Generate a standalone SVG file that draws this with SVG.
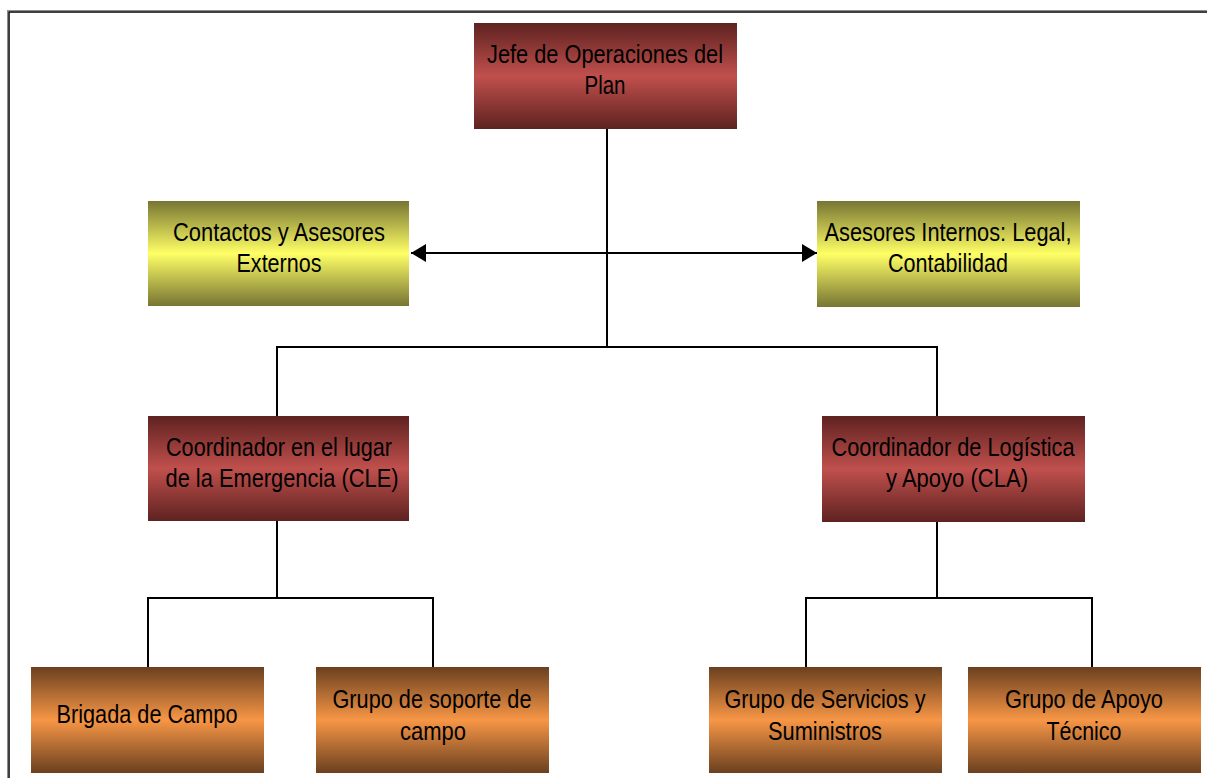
<svg xmlns="http://www.w3.org/2000/svg" width="1207" height="778" viewBox="0 0 1207 778">
<defs>
<linearGradient id="gRed" x1="0" y1="0" x2="0" y2="1">
<stop offset="0" stop-color="#5e2220"/><stop offset="0.5" stop-color="#c0504d"/><stop offset="1" stop-color="#5e2220"/>
</linearGradient>
<linearGradient id="gYel" x1="0" y1="0" x2="0" y2="1">
<stop offset="0" stop-color="#777533"/><stop offset="0.5" stop-color="#ffff66"/><stop offset="1" stop-color="#777533"/>
</linearGradient>
<linearGradient id="gOra" x1="0" y1="0" x2="0" y2="1">
<stop offset="0" stop-color="#6a401f"/><stop offset="0.5" stop-color="#f79646"/><stop offset="1" stop-color="#6a401f"/>
</linearGradient>
<marker id="arr" viewBox="0 0 15 18" refX="15" refY="9" markerWidth="15" markerHeight="18" markerUnits="userSpaceOnUse" orient="auto-start-reverse">
<path d="M0,0 L15,9 L0,18 Z" fill="#000"/>
</marker>
<style>
text{font-family:"Liberation Sans",Arial,sans-serif;font-size:25px;fill:#000;text-anchor:middle}
.red{fill:url(#gRed)}
.yel{fill:url(#gYel)}
.ora{fill:url(#gOra)}
.ln{stroke:#000;stroke-width:2;fill:none}
</style>
</defs>
<rect width="1207" height="778" fill="#fff"/>
<rect x="7.5" y="10.5" width="1300" height="900" fill="none" stroke="#8c8c8c" stroke-width="1"/>
<rect x="9" y="12" width="1300" height="900" fill="none" stroke="#000" stroke-width="1.5"/>

<g id="connectors">
<path class="ln" d="M607,129 V347"/>
<path class="ln" d="M277,416 V347 H937 V416"/>
<path class="ln" d="M277,521 V598"/>
<path class="ln" d="M148,667 V598 H433 V667"/>
<path class="ln" d="M937,522 V598"/>
<path class="ln" d="M806,667 V598 H1092 V667"/>
<path class="ln" d="M411,253 H817" marker-start="url(#arr)" marker-end="url(#arr)"/>
</g>

<g id="jefe">
<rect class="red" x="474" y="23" width="263" height="106"/>
<text x="605" y="63" textLength="236" lengthAdjust="spacingAndGlyphs">Jefe de Operaciones del</text>
<text x="605" y="94" textLength="41" lengthAdjust="spacingAndGlyphs">Plan</text>
</g>
<g id="contactos">
<rect class="yel" x="148" y="201" width="261" height="105"/>
<text x="279" y="241" textLength="212" lengthAdjust="spacingAndGlyphs">Contactos y Asesores</text>
<text x="279" y="272" textLength="85" lengthAdjust="spacingAndGlyphs">Externos</text>
</g>
<g id="asesores">
<rect class="yel" x="817" y="201" width="263" height="106"/>
<text x="948" y="241" textLength="247" lengthAdjust="spacingAndGlyphs">Asesores Internos: Legal,</text>
<text x="948" y="272" textLength="120" lengthAdjust="spacingAndGlyphs">Contabilidad</text>
</g>
<g id="cle">
<rect class="red" x="148" y="416" width="261" height="105"/>
<text x="279" y="456" textLength="226" lengthAdjust="spacingAndGlyphs">Coordinador en el lugar</text>
<text x="282" y="487" textLength="233" lengthAdjust="spacingAndGlyphs">de la Emergencia (CLE)</text>
</g>
<g id="cla">
<rect class="red" x="822" y="416" width="263" height="106"/>
<text x="953" y="456" textLength="243" lengthAdjust="spacingAndGlyphs">Coordinador de Logística</text>
<text x="957" y="487" textLength="142" lengthAdjust="spacingAndGlyphs">y Apoyo (CLA)</text>
</g>
<g id="brigada">
<rect class="ora" x="31" y="667" width="233" height="106"/>
<text x="147" y="723" textLength="181" lengthAdjust="spacingAndGlyphs">Brigada de Campo</text>
</g>
<g id="soporte">
<rect class="ora" x="316" y="667" width="233" height="106"/>
<text x="432" y="708" textLength="199" lengthAdjust="spacingAndGlyphs">Grupo de soporte de</text>
<text x="433" y="740" textLength="66" lengthAdjust="spacingAndGlyphs">campo</text>
</g>
<g id="servicios">
<rect class="ora" x="709" y="667" width="233" height="106"/>
<text x="825" y="708" textLength="201" lengthAdjust="spacingAndGlyphs">Grupo de Servicios y</text>
<text x="825" y="740" textLength="114" lengthAdjust="spacingAndGlyphs">Suministros</text>
</g>
<g id="tecnico">
<rect class="ora" x="968" y="667" width="233" height="106"/>
<text x="1084" y="708" textLength="158" lengthAdjust="spacingAndGlyphs">Grupo de Apoyo</text>
<text x="1084" y="740" textLength="75" lengthAdjust="spacingAndGlyphs">Técnico</text>
</g>
</svg>
